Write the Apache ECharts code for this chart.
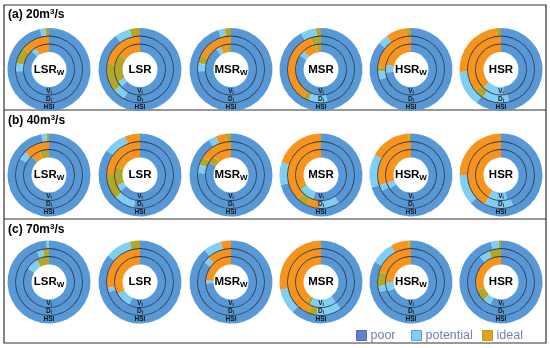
<!DOCTYPE html>
<html><head><meta charset="utf-8">
<script src="https://cdn.jsdelivr.net/npm/echarts@6/dist/echarts.min.js"></script>
<style>html,body{margin:0;padding:0;background:#fff}#c{width:550px;height:348px}</style>
</head><body><div id="c"></div>
<script>
// ---- data ----
const panelTitles = ['(a) 20m{sup|3}/s', '(b) 40m{sup|3}/s', '(c) 70m{sup|3}/s'];
const sites = ['LSR{sub|W}', 'LSR', 'MSR{sub|W}', 'MSR', 'HSR{sub|W}', 'HSR'];
const ringLabels = ['V{s|i}', 'D{s|i}', 'HSI'];
const classNames = ['poor', 'potential', 'ideal', 'ideal'];
// segments [class, percent], counter-clockwise from 12 o'clock; class 3 = ideal (olive shade)
const a_Vi = [[[2,9],[1,3],[0,88]], [[2,15],[3,18],[1,4],[0,63]], [[3,3],[2,4],[1,3],[0,90]], [[3,3],[2,9],[1,4],[0,84]], [[2,22],[1,5],[0,73]], [[2,38],[1,14],[0,48]]];
const a_Di = [[[2,14],[3,8],[1,4],[0,74]], [[2,22],[3,14],[1,6],[0,58]], [[2,18],[3,4],[1,4],[0,74]], [[3,5],[2,36],[3,3],[1,9],[0,47]], [[2,24],[3,2],[1,4],[0,70]], [[2,36],[3,5],[1,13],[0,46]]];
const a_HSI = [[[3,1.5],[1,2],[0,96.5]], [[3,4],[1,6],[0,90]], [[3,2.5],[1,2.5],[0,95]], [[3,2],[1,6],[0,92]], [[3,2],[2,8],[1,4],[0,86]], [[3,2],[2,24],[1,14],[0,60]]];
const b_Vi = [[[3,6],[2,6],[0,88]], [[2,20],[3,12],[1,4],[0,64]], [[2,12],[3,5],[0,83]], [[2,33],[3,2],[1,10],[0,55]], [[2,30],[1,4],[0,66]], [[2,42],[1,12],[0,46]]];
const b_Di = [[[2,13],[1,4],[0,83]], [[2,25],[3,12],[1,10],[0,53]], [[2,16],[3,4],[1,4],[0,76]], [[2,38],[3,5],[2,6],[1,10],[0,41]], [[2,30],[1,3],[0,67]], [[2,42],[1,14],[0,44]]];
const b_HSI = [[[3,1],[1,2],[0,97]], [[2,6],[1,9],[0,85]], [[3,2],[2,4],[1,3],[0,91]], [[2,20],[1,9],[0,71]], [[3,1],[2,16],[1,13],[0,70]], [[2,25],[1,12],[0,63]]];
const c_Vi = [[[3,8],[1,8],[0,84]], [[2,33],[1,10],[0,57]], [[2,24],[1,2],[0,74]], [[2,40],[3,3],[1,17],[0,40]], [[2,25],[1,6],[0,69]], [[2,30],[3,8],[1,5],[0,57]]];
const c_Di = [[[3,3],[1,3],[0,94]], [[2,28],[1,2],[0,70]], [[2,12],[1,3],[0,85]], [[2,44],[3,4],[1,12],[0,40]], [[2,20],[3,7],[1,3],[0,70]], [[3,6],[1,5],[0,89]]];
const c_HSI = [[[1,1],[0,99]], [[3,4],[1,10],[0,86]], [[2,4],[1,7],[0,89]], [[2,28],[1,10],[0,62]], [[3,1],[2,7],[1,9],[0,83]], [[3,1],[1,3],[0,96]]];

// ---- layout / style ----
const rows = [[a_Vi, a_Di, a_HSI], [b_Vi, b_Di, b_HSI], [c_Vi, c_Di, c_HSI]];
const colX = [49, 140, 231, 321, 411, 501];
const rowY = [69.5, 175, 282];
const radii = [17.5, 25.5, 33.5, 41.5];
const colors = ['#5898d7', '#7fcff5', '#f7941e', '#b3a72a'];

const series = [];
const graphic = [];
rows.forEach((rings, ri) => {
  colX.forEach((cx, ci) => {
    const cy = rowY[ri];
    rings.forEach((ring, k) => {
      series.push({
        type: 'pie', center: [cx, cy], radius: [radii[k], radii[k + 1]],
        startAngle: 90, clockwise: false, silent: true, animation: false,
        label: { show: false }, labelLine: { show: false },
        itemStyle: { borderWidth: 0 },
        data: ring[ci].map(([c, v]) => ({ name: classNames[c], value: v, itemStyle: { color: colors[c] } }))
      });
    });
    [1, 2].forEach(k => {
      series.push({
        type: 'pie', center: [cx, cy], radius: [radii[k] - 0.4, radii[k] + 0.4],
        silent: true, animation: false, label: { show: false }, labelLine: { show: false },
        data: [{ value: 1, name: 'sep', itemStyle: { color: '#2a3440' } }]
      });
    });
    graphic.push({
      type: 'text', x: cx, y: cy, z: 10,
      style: { text: sites[ci], x: 0, y: 0, align: 'center', verticalAlign: 'middle',
        font: 'bold 11.5px Arial', fill: '#000',
        rich: { sub: { font: 'bold 8px Arial', fill: '#000', verticalAlign: 'bottom', padding: [6, 0, 0, 0] } } }
    });
    ringLabels.forEach((t, k) => {
      graphic.push({
        type: 'text', x: cx, y: cy + (radii[k] + radii[k + 1]) / 2, z: 10,
        style: { text: t, align: 'center', verticalAlign: 'middle', font: 'bold 6.5px Arial', fill: '#111',
          rich: { s: { font: 'bold 4.5px Arial', fill: '#111', padding: [3, 0, 0, 0] } } }
      });
    });
  });
});

const titleY = [15, 121, 230];
panelTitles.forEach((t, i) => {
  graphic.push({ type: 'text', x: 8, y: titleY[i], z: 10,
    style: { text: t, verticalAlign: 'middle', font: 'bold 12px Arial', fill: '#000',
      rich: { sup: { font: 'bold 8px Arial', fill: '#000', padding: [0, 0, 6, 0] } } } });
});
graphic.push({ type: 'rect', shape: { x: 4, y: 5, width: 542, height: 338 }, style: { fill: 'none', stroke: '#333', lineWidth: 1.2 } });
graphic.push({ type: 'line', shape: { x1: 4, y1: 110, x2: 546, y2: 110 }, style: { stroke: '#333', lineWidth: 1.2 } });
graphic.push({ type: 'line', shape: { x1: 4, y1: 219, x2: 546, y2: 219 }, style: { stroke: '#333', lineWidth: 1.2 } });

const legendItems = [
  { name: 'poor', itemStyle: { color: '#6680d0', borderColor: '#5566b8', borderWidth: 1 } },
  { name: 'potential', itemStyle: { color: '#7fcff5', borderColor: '#6699dd', borderWidth: 1 } },
  { name: 'ideal', itemStyle: { color: '#e8a020', borderColor: '#a8a030', borderWidth: 1 } }
];
const legendX = [356, 411, 482];
const legend = legendItems.map((it, i) => ({
  left: legendX[i], top: 329, padding: 0, icon: 'rect', itemWidth: 10, itemHeight: 10, itemGap: 0,
  selectedMode: false, data: [it],
  textStyle: { fontSize: 12.5, color: '#7080b0', fontFamily: 'Arial', padding: [0, 0, 0, -1] }
}));

const chart = echarts.init(document.getElementById('c'), null, { renderer: 'canvas' });
chart.setOption({ animation: false, legend, series, graphic });
</script></body></html>
